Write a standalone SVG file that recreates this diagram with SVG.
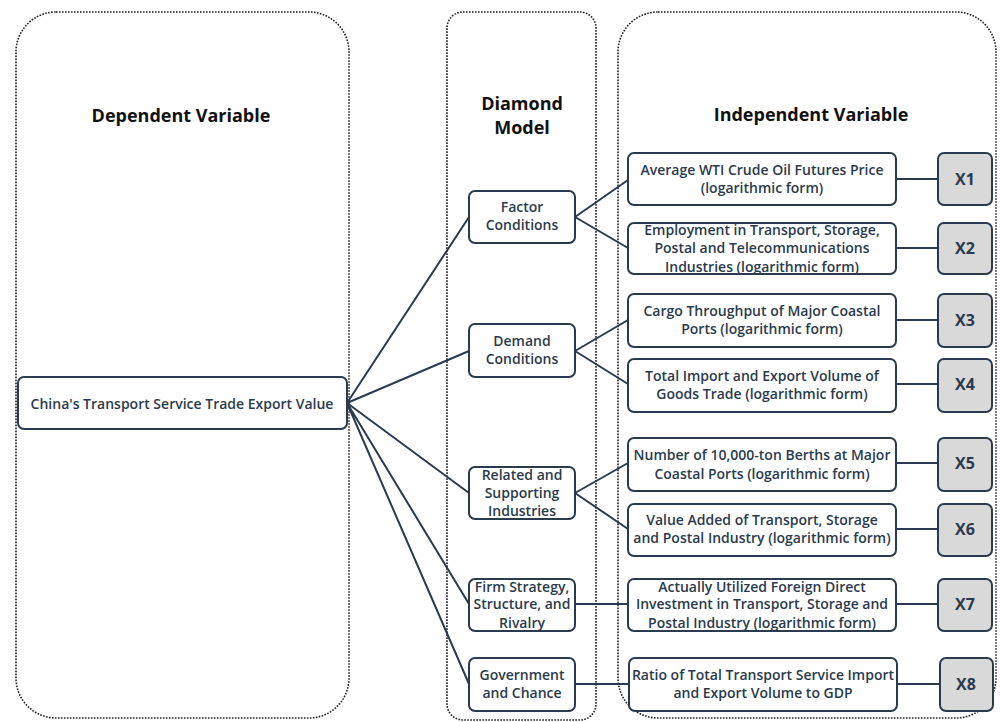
<svg xmlns="http://www.w3.org/2000/svg" width="1000" height="722" viewBox="0 0 1000 722">
<style>
.panel{fill:none;stroke:#222;stroke-width:1.6;stroke-dasharray:1.6 1.4}
.box{fill:#fff;stroke:#2b3a4c;stroke-width:2}
.xbox{fill:#d9d9d9;stroke:#2b3a4c;stroke-width:2}
.hdr{font-family:"Open Sans","Liberation Sans",Arial,sans-serif;font-weight:bold;font-size:18px;fill:#111;text-anchor:middle}
.t{font-family:"Open Sans","Liberation Sans",Arial,sans-serif;font-weight:600;font-size:14px;fill:#2b3a4c;text-anchor:middle;dominant-baseline:central}
.xt{font-family:"Open Sans","Liberation Sans",Arial,sans-serif;font-weight:bold;font-size:16px;fill:#2b3a4c;text-anchor:middle;dominant-baseline:central}
.c{fill:none;stroke:#2b3a4c;stroke-width:2}
</style>
<rect width="1000" height="722" fill="#fff"/>
<g id="panels">
<rect class="panel" x="16" y="12" width="333" height="706" rx="40"/>
<rect class="panel" x="447" y="12" width="149" height="708" rx="16"/>
<rect class="panel" x="618" y="12" width="378" height="706" rx="40"/>
<text class="hdr" x="181" y="122">Dependent Variable</text>
<text class="hdr" x="522" y="110">Diamond</text>
<text class="hdr" x="522" y="134">Model</text>
<text class="hdr" x="811" y="121">Independent Variable</text>
</g>
<g id="connectors">
<path class="c" d="M347 403L469 217M347 403L469 351M347 403L469 493M347 403L469 604M347 403L469 684"/>
<path class="c" d="M575 217L628 180M575 217L628 248M575 351L628 320M575 351L628 384M575 493L628 463M575 493L628 529M575 604L628 604M575 684L628 684"/>
<path class="c" d="M896 179H938M896 248H938M896 320H938M896 384H938M896 463H938M896 529H938M896 604H938M897 684H940"/>
</g>
<g id="dep">
<rect class="box" x="18" y="377" width="329" height="52" rx="6"/>
<text class="t" x="182" y="403">China's Transport Service Trade Export Value</text>
</g>
<g id="factor">
<rect class="box" x="469" y="191" width="106" height="52" rx="6"/>
<text class="t" x="522" y="206">Factor</text><text class="t" x="522" y="224">Conditions</text>
</g>
<g id="demand">
<rect class="box" x="469" y="324" width="106" height="53" rx="6"/>
<text class="t" x="522" y="340">Demand</text><text class="t" x="522" y="358">Conditions</text>
</g>
<g id="related">
<rect class="box" x="469" y="467" width="106" height="52" rx="6"/>
<text class="t" x="522" y="474">Related and</text><text class="t" x="522" y="492">Supporting</text><text class="t" x="522" y="510">Industries</text>
</g>
<g id="firm">
<rect class="box" x="469" y="579" width="106" height="52" rx="6"/>
<text class="t" x="522" y="586">Firm Strategy,</text><text class="t" x="522" y="603">Structure, and</text><text class="t" x="522" y="622">Rivalry</text>
</g>
<g id="gov">
<rect class="box" x="469" y="658" width="106" height="53" rx="6"/>
<text class="t" x="522" y="674">Government</text><text class="t" x="522" y="692">and Chance</text>
</g>
<g id="iv1">
<rect class="box" x="628" y="153" width="268" height="52" rx="6"/>
<text class="t" x="762" y="169">Average WTI Crude Oil Futures Price</text><text class="t" x="762" y="187">(logarithmic form)</text>
</g>
<g id="iv2">
<rect class="box" x="628" y="223" width="268" height="51" rx="6"/>
<text class="t" x="762" y="229">Employment in Transport, Storage,</text><text class="t" x="762" y="247">Postal and Telecommunications</text><text class="t" x="762" y="266">Industries (logarithmic form)</text>
</g>
<g id="iv3">
<rect class="box" x="628" y="294" width="268" height="53" rx="6"/>
<text class="t" x="762" y="310">Cargo Throughput of Major Coastal</text><text class="t" x="762" y="328">Ports (logarithmic form)</text>
</g>
<g id="iv4">
<rect class="box" x="628" y="359" width="268" height="53" rx="6"/>
<text class="t" x="762" y="375">Total Import and Export Volume of</text><text class="t" x="762" y="393">Goods Trade (logarithmic form)</text>
</g>
<g id="iv5">
<rect class="box" x="628" y="438" width="268" height="53" rx="6"/>
<text class="t" x="762" y="454">Number of 10,000-ton Berths at Major</text><text class="t" x="762" y="473">Coastal Ports (logarithmic form)</text>
</g>
<g id="iv6">
<rect class="box" x="628" y="504" width="268" height="52" rx="6"/>
<text class="t" x="762" y="519">Value Added of Transport, Storage</text><text class="t" x="762" y="537">and Postal Industry (logarithmic form)</text>
</g>
<g id="iv7">
<rect class="box" x="628" y="579" width="268" height="52" rx="6"/>
<text class="t" x="762" y="586">Actually Utilized Foreign Direct</text><text class="t" x="762" y="603">Investment in Transport, Storage and</text><text class="t" x="762" y="622">Postal Industry (logarithmic form)</text>
</g>
<g id="iv8">
<rect class="box" x="629" y="658" width="268" height="53" rx="6"/>
<text class="t" x="763" y="674">Ratio of Total Transport Service Import</text><text class="t" x="763" y="692">and Export Volume to GDP</text>
</g>
<g id="x1"><rect class="xbox" x="938" y="153" width="54" height="52" rx="6"/><text class="xt" x="965" y="179">X1</text></g>
<g id="x2"><rect class="xbox" x="938" y="223" width="54" height="51" rx="6"/><text class="xt" x="965" y="248">X2</text></g>
<g id="x3"><rect class="xbox" x="938" y="294" width="54" height="53" rx="6"/><text class="xt" x="965" y="320">X3</text></g>
<g id="x4"><rect class="xbox" x="938" y="359" width="54" height="53" rx="6"/><text class="xt" x="965" y="384">X4</text></g>
<g id="x5"><rect class="xbox" x="938" y="438" width="54" height="53" rx="6"/><text class="xt" x="965" y="463">X5</text></g>
<g id="x6"><rect class="xbox" x="938" y="504" width="54" height="52" rx="6"/><text class="xt" x="965" y="529">X6</text></g>
<g id="x7"><rect class="xbox" x="938" y="579" width="54" height="52" rx="6"/><text class="xt" x="965" y="604">X7</text></g>
<g id="x8"><rect class="xbox" x="940" y="658" width="53" height="53" rx="6"/><text class="xt" x="966" y="684">X8</text></g>
</svg>
